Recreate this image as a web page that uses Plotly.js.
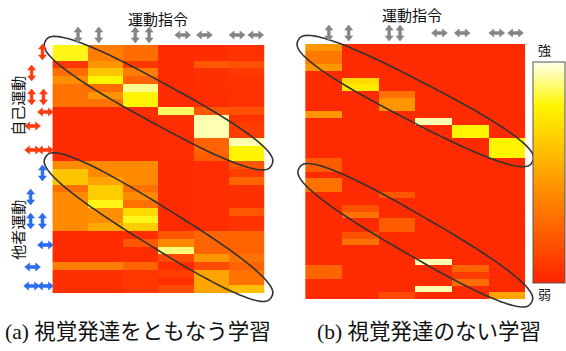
<!DOCTYPE html>
<html>
<head>
<meta charset="utf-8">
<script src="https://cdn.plot.ly/plotly-3.0.1.min.js"></script>
<style>
  html, body { margin: 0; padding: 0; background: #fff; }
  #chart { width: 566px; height: 351px; }
</style>
</head>
<body>
<div id="chart"></div>
<script>
// Motor-command columns (6) and activation strength per row, normalised 0 (弱) .. 1 (強)
const commandCols = [0, 1, 2, 3, 4, 5];

// (a) learning with visual development: self-motion rows, then other-motion rows
const leftSelf = [
  [0.82, 0.35, 0.28, 0.03, 0.03, 0.05],
  [0.82, 0.35, 0.28, 0.03, 0.04, 0.06],
  [0.08, 0.45, 0.08, 0.03, 0.20, 0.17],
  [0.28, 0.62, 0.35, 0.03, 0.05, 0.08],
  [0.42, 0.80, 0.25, 0.03, 0.05, 0.06],
  [0.30, 0.28, 0.92, 0.04, 0.05, 0.06],
  [0.30, 0.45, 0.80, 0.03, 0.04, 0.05],
  [0.30, 0.30, 0.80, 0.03, 0.04, 0.06],
  [0.03, 0.03, 0.04, 0.88, 0.20, 0.17],
  [0.03, 0.03, 0.03, 0.05, 0.95, 0.06],
  [0.03, 0.03, 0.03, 0.04, 0.95, 0.10],
  [0.03, 0.03, 0.03, 0.04, 0.95, 0.10],
  [0.03, 0.03, 0.03, 0.04, 0.25, 0.95],
  [0.03, 0.03, 0.03, 0.04, 0.25, 0.80],
  [0.03, 0.03, 0.03, 0.04, 0.22, 0.80]
];
const leftOther = [
  [0.40, 0.40, 0.40, 0.03, 0.04, 0.20],
  [0.62, 0.40, 0.40, 0.03, 0.04, 0.10],
  [0.62, 0.50, 0.40, 0.03, 0.04, 0.25],
  [0.30, 0.65, 0.30, 0.03, 0.04, 0.05],
  [0.40, 0.65, 0.40, 0.03, 0.04, 0.05],
  [0.40, 0.82, 0.30, 0.03, 0.04, 0.05],
  [0.40, 0.42, 0.70, 0.03, 0.04, 0.20],
  [0.40, 0.42, 0.82, 0.03, 0.04, 0.06],
  [0.40, 0.52, 0.65, 0.03, 0.04, 0.06],
  [0.03, 0.03, 0.04, 0.20, 0.25, 0.25],
  [0.03, 0.03, 0.20, 0.40, 0.25, 0.25],
  [0.03, 0.03, 0.04, 0.90, 0.25, 0.25],
  [0.03, 0.03, 0.04, 0.15, 0.45, 0.30],
  [0.35, 0.35, 0.25, 0.04, 0.15, 0.25],
  [0.05, 0.05, 0.08, 0.10, 0.50, 0.30],
  [0.05, 0.05, 0.08, 0.04, 0.50, 0.30],
  [0.05, 0.05, 0.08, 0.15, 0.50, 0.60]
];

// (b) learning without visual development
const rightSelf = [
  [0.45, 0.03, 0.03, 0.03, 0.03, 0.03],
  [0.33, 0.03, 0.03, 0.03, 0.03, 0.03],
  [0.33, 0.03, 0.03, 0.03, 0.03, 0.03],
  [0.45, 0.03, 0.03, 0.03, 0.03, 0.03],
  [0.03, 0.03, 0.03, 0.03, 0.03, 0.03],
  [0.03, 0.70, 0.03, 0.03, 0.03, 0.03],
  [0.03, 0.76, 0.03, 0.03, 0.03, 0.03],
  [0.03, 0.03, 0.30, 0.03, 0.03, 0.03],
  [0.03, 0.03, 0.45, 0.03, 0.03, 0.03],
  [0.03, 0.03, 0.45, 0.03, 0.03, 0.03],
  [0.45, 0.03, 0.03, 0.03, 0.03, 0.03],
  [0.03, 0.03, 0.03, 0.95, 0.03, 0.03],
  [0.03, 0.03, 0.03, 0.03, 0.80, 0.03],
  [0.03, 0.03, 0.03, 0.03, 0.80, 0.03],
  [0.03, 0.03, 0.03, 0.03, 0.03, 0.80],
  [0.03, 0.03, 0.03, 0.03, 0.03, 0.80],
  [0.03, 0.03, 0.03, 0.03, 0.03, 0.80]
];
const rightOther = [
  [0.22, 0.03, 0.03, 0.03, 0.03, 0.03],
  [0.22, 0.03, 0.03, 0.03, 0.03, 0.03],
  [0.03, 0.03, 0.03, 0.03, 0.03, 0.03],
  [0.30, 0.03, 0.03, 0.03, 0.03, 0.03],
  [0.30, 0.03, 0.03, 0.03, 0.03, 0.03],
  [0.03, 0.03, 0.20, 0.03, 0.03, 0.03],
  [0.03, 0.03, 0.03, 0.03, 0.03, 0.03],
  [0.03, 0.18, 0.03, 0.03, 0.03, 0.03],
  [0.03, 0.30, 0.03, 0.03, 0.03, 0.03],
  [0.03, 0.03, 0.22, 0.03, 0.03, 0.03],
  [0.03, 0.03, 0.22, 0.03, 0.03, 0.03],
  [0.03, 0.18, 0.03, 0.03, 0.03, 0.03],
  [0.03, 0.30, 0.03, 0.03, 0.03, 0.03],
  [0.03, 0.03, 0.03, 0.03, 0.03, 0.03],
  [0.03, 0.03, 0.03, 0.03, 0.03, 0.03],
  [0.03, 0.03, 0.03, 0.95, 0.03, 0.03],
  [0.25, 0.03, 0.03, 0.03, 0.25, 0.03],
  [0.25, 0.03, 0.03, 0.03, 0.10, 0.03],
  [0.03, 0.03, 0.03, 0.03, 0.28, 0.03],
  [0.03, 0.03, 0.03, 0.95, 0.03, 0.03],
  [0.03, 0.03, 0.15, 0.03, 0.03, 0.50]
];

const commandTitle = '運動指令';
const selfLabel = '自己運動';
const otherLabel = '他者運動';
const strongLabel = '強';
const weakLabel = '弱';
const captions = ['(a) 視覚発達をともなう学習', '(b) 視覚発達のない学習'];

// ---------------------------------------------------------------------------
const W = 566, H = 351;
const px = x => x / W;            // pixel -> paper x
const py = y => 1 - y / H;        // pixel -> paper y

const panels = {
  left:  { x0: 53,  x1: 268, y0: 45, y1: 293, z: leftSelf.concat(leftOther) },
  right: { x0: 309, x1: 532, y0: 44, y1: 299, z: rightSelf.concat(rightOther) }
};

const heatColors = [
  [0.00, 'rgb(255,35,0)'],
  [0.25, 'rgb(255,100,0)'],
  [0.45, 'rgb(255,150,0)'],
  [0.65, 'rgb(255,205,0)'],
  [0.80, 'rgb(255,245,0)'],
  [0.90, 'rgb(255,252,120)'],
  [1.00, 'rgb(255,255,235)']
];

function rowIdx(n) { return Array.from({ length: n }, (_, i) => i); }

const traces = [
  {
    type: 'heatmap', xaxis: 'x', yaxis: 'y',
    x: commandCols, y: rowIdx(panels.left.z.length), z: panels.left.z,
    zmin: 0, zmax: 1, colorscale: heatColors, showscale: false, hoverinfo: 'skip'
  },
  {
    type: 'heatmap', xaxis: 'x2', yaxis: 'y2',
    x: commandCols, y: rowIdx(panels.right.z.length), z: panels.right.z,
    zmin: 0, zmax: 1, colorscale: heatColors, hoverinfo: 'skip',
    showscale: true,
    colorbar: {
      xref: 'paper', yref: 'paper',
      x: px(540), xanchor: 'left', xpad: 0, ypad: 0,
      y: py(172.5), yanchor: 'middle',
      thickness: 32, thicknessmode: 'pixels',
      len: 221, lenmode: 'pixels',
      outlinewidth: 1, outlinecolor: '#555',
      showticklabels: false, ticks: '', borderwidth: 0
    }
  }
];

function axisPair(p) {
  const n = p.z.length;
  return [
    { domain: [px(p.x0), px(p.x1)], range: [-0.5, 5.5], visible: false, fixedrange: true },
    { domain: [py(p.y1), py(p.y0)], range: [n - 0.5, -0.5], visible: false, fixedrange: true }
  ];
}
const [xa1, ya1] = axisPair(panels.left);
const [xa2, ya2] = axisPair(panels.right);
ya1.anchor = 'x'; xa1.anchor = 'y';
xa2.anchor = 'y2'; ya2.anchor = 'x2';

// Rounded diagonal outlines around the matching command blocks
function diagOutline(p, rowFrom, rowTo, ext, half) {
  const n = p.z.length;
  const ry = r => p.y0 + (p.y1 - p.y0) * r / n;
  const ax = p.x0, ay = ry(rowFrom), bx = p.x1, by = ry(rowTo);
  const dx = bx - ax, dy = by - ay, L = Math.hypot(dx, dy);
  const ux = dx / L, uy = dy / L, vx = -uy, vy = ux;
  const cx = (ax + bx) / 2, cy = (ay + by) / 2, a = L / 2 + ext;
  const e = 2.6, N = 160;
  let d = '';
  for (let i = 0; i <= N; i++) {
    const t = 2 * Math.PI * i / N;
    const c = Math.cos(t), s = Math.sin(t);
    const X = Math.sign(c) * Math.pow(Math.abs(c), 2 / e) * a;
    const Y = Math.sign(s) * Math.pow(Math.abs(s), 2 / e) * half;
    const x = cx + ux * X + vx * Y, y = cy + uy * X + vy * Y;
    d += (i === 0 ? 'M' : 'L') + px(x).toFixed(5) + ',' + py(y).toFixed(5);
  }
  return {
    type: 'path', xref: 'paper', yref: 'paper', path: d + 'Z',
    line: { color: '#333', width: 1.6 }, fillcolor: 'rgba(0,0,0,0)'
  };
}

const shapes = [
  diagOutline(panels.left, 0, leftSelf.length, 8, 20),
  diagOutline(panels.left, leftSelf.length, leftSelf.length + leftOther.length, 8, 20),
  diagOutline(panels.right, 0, rightSelf.length, 8, 20),
  diagOutline(panels.right, rightSelf.length + 2, rightSelf.length + rightOther.length, 7, 20)
];

// Double-headed direction arrow (vertical 'v' / horizontal 'h') as a filled outline
function dirArrow(cx, cy, dir, color) {
  const len = 8, head = 5, hw = 4, sw = 1.4;
  // outline in local (along, across) coordinates
  const pts = [
    [-len, 0], [-len + head, hw], [-len + head, sw], [len - head, sw], [len - head, hw],
    [len, 0], [len - head, -hw], [len - head, -sw], [-len + head, -sw], [-len + head, -hw]
  ];
  const d = pts.map(([a, b], i) => {
    const x = dir === 'v' ? cx + b : cx + a;
    const y = dir === 'v' ? cy + a : cy + b;
    return (i === 0 ? 'M' : 'L') + px(x).toFixed(5) + ',' + py(y).toFixed(5);
  }).join('') + 'Z';
  return {
    type: 'path', xref: 'paper', yref: 'paper', path: d,
    fillcolor: color, line: { color: color, width: 0.6 }
  };
}

const gray = '#858585', red = '#ff3a10', blue = '#2a6cf0';

// command arrows above both panels
[[79, 'v'], [100, 'v'], [137, 'v'], [151, 'v'], [185, 'h'], [207, 'h'], [240, 'h'], [259, 'h']]
  .forEach(([x, d]) => shapes.push(dirArrow(x, 35, d, gray)));
[[333, 'v'], [353, 'v'], [394, 'v'], [405, 'v'], [445, 'h'], [468, 'h'], [503, 'h'], [522, 'h']]
  .forEach(([x, d]) => shapes.push(dirArrow(x, 33, d, gray)));

// motion arrows beside the left panel
[[43, 52, 'v'], [32, 73, 'v'], [32, 97, 'v'], [44, 97, 'v'], [46, 112, 'h'], [33, 126, 'h'], [33, 150, 'h'], [46, 150, 'h']]
  .forEach(([x, y, d]) => shapes.push(dirArrow(x, y, d, red)));
[[43, 173, 'v'], [31, 197, 'v'], [31, 221, 'v'], [43, 221, 'v'], [46, 245, 'h'], [33, 267, 'h'], [32, 286, 'h'], [46, 286, 'h']]
  .forEach(([x, y, d]) => shapes.push(dirArrow(x, y, d, blue)));

const annotations = [];
const cjk = '"Noto Sans CJK JP", "Noto Sans", sans-serif';
function label(text, x, y, size, extra) {
  return Object.assign({
    xref: 'paper', yref: 'paper', x: px(x), y: py(y), xanchor: 'center', yanchor: 'middle',
    text: text, showarrow: false, font: { family: cjk, size: size, color: '#111' }
  }, extra || {});
}
annotations.push(label(commandTitle, 160, 18, 15));
annotations.push(label(commandTitle, 417, 15, 15));
annotations.push(label(selfLabel, 17, 106, 15, { textangle: -90 }));
annotations.push(label(otherLabel, 17, 230, 15, { textangle: -90 }));
annotations.push(label(strongLabel, 551, 50, 13));
annotations.push(label(weakLabel, 551, 293, 13));
const capFont = { family: '"Liberation Serif", "Noto Sans CJK JP", serif', size: 21.5, color: '#111' };
annotations.push(label(captions[0], 140, 332, 21.5, { font: capFont }));
annotations.push(label(captions[1], 434, 332, 21.5, { font: capFont }));

const layout = {
  width: W, height: H,
  margin: { l: 0, r: 0, t: 0, b: 0, pad: 0 },
  paper_bgcolor: '#fff', plot_bgcolor: '#fff',
  showlegend: false,
  xaxis: xa1, yaxis: ya1, xaxis2: xa2, yaxis2: ya2,
  shapes: shapes,
  annotations: annotations
};

Plotly.newPlot('chart', traces, layout, { staticPlot: true, displayModeBar: false });
</script>
</body>
</html>
